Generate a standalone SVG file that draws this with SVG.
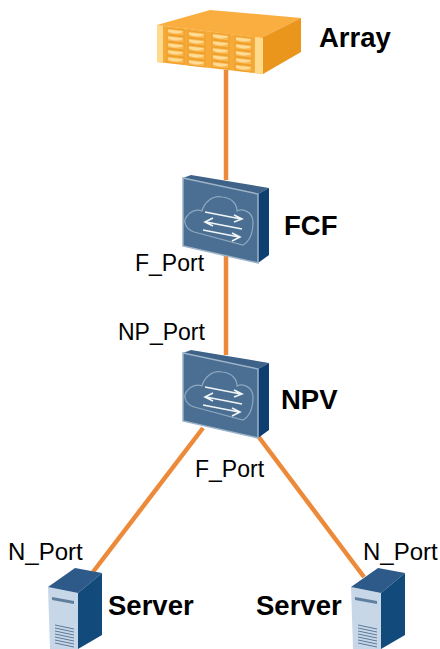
<svg xmlns="http://www.w3.org/2000/svg" width="440" height="649" viewBox="0 0 440 649">
<style>
.bold{font:bold 27.5px "Liberation Sans",Arial,sans-serif;fill:#000}
.port{font:23px "Liberation Sans",Arial,sans-serif;fill:#000}
.nport{font:24px "Liberation Sans",Arial,sans-serif;fill:#000}
.link{stroke:#ed8a3a;stroke-width:4.5;fill:none}
.swTop{fill:#3f6388}.swSide{fill:#0f3f70}.swFront{fill:#4a6f92;stroke:#9db3c8;stroke-width:1.5}
.sym{fill:none;stroke:#8ea8c0;stroke-width:1.2}
.arr{fill:none;stroke:#f1f5f8;stroke-width:1.6}
.srvTop{fill:#2d5a88}.srvSide{fill:#134a7c}.srvFront{fill:#c8d7e8}
.vent{stroke:#5b7a99;stroke-width:1}
.bayBg{fill:#fbb64e;stroke:#e8981f;stroke-width:.7}
.bayFg{fill:#ffdc96}
</style>
<defs>
<g id="switch">
<path class="swTop" d="M183 178L191 175L269 188L258 194Z"/>
<path class="swSide" d="M258 194L269 188V255L258 263Z"/>
<path class="swFront" d="M183 178L258 194V263L183 246Z"/>
<path class="sym" d="M198 233C186 231 182 222 187 216C190 211 197 209 202 211C204 203 212 195 222 197C232 198 237 204 237 211C243 208 253 212 253 222C253 232 250 241 243 245Z"/>
<path class="arr" d="M205 212L241 219M234 215L242 219L234 222M242 229L206 222M213 218L205 222L213 226M203 230L239 237M232 233L240 237L232 241"/>
</g>
<g id="server">
<path class="srvFront" d="M0 14L30 20V76H2Z"/>
<path class="srvTop" d="M0 14L27 -5L54 0L30 20Z"/>
<path class="srvSide" d="M30 20L54 0V62L30 76Z"/>
<path d="M4 24L26 28V31L4 27Z" fill="#5f7f9f"/>
<path class="vent" d="M7 52L26 56M7 55L26 59M7 58L26 62M7 61L26 65M7 64L26 68M7 67L26 71M7 70L26 74"/>
</g>
<g id="bay">
<path class="bayBg" d="M0 0L17 2V8L0 6Z"/>
<path class="bayFg" d="M1 1.5L16 3.3C15 6.5 5 6 1 3.5Z"/>
</g>
<g id="bayCol">
<use href="#bay"/>
<use href="#bay" y="7"/>
<use href="#bay" y="14"/>
<use href="#bay" y="21"/>
<use href="#bay" y="28"/>
</g>
</defs>
<g id="connectors">
<path class="link" d="M226 70V180"/>
<path class="link" d="M226 255V355"/>
<path class="link" d="M203 428L93 572"/>
<path class="link" d="M258 436L364 577"/>
</g>
<g id="array">
<path d="M157 25L210 10L301 18L261 38Z" fill="#fbae40"/>
<path d="M261 38L301 18V52L263 74Z" fill="#ea951c"/>
<path d="M157 25L263 38V74L157 62Z" fill="#f6aa3a"/>
<path d="M157 25L163 26V63L157 62Z M255 37L263 38V74L255 73Z" fill="#ffd98c"/>
<use href="#bayCol" x="167" y="28"/>
<use href="#bayCol" x="188" y="31"/>
<use href="#bayCol" x="212" y="33"/>
<use href="#bayCol" x="235" y="36"/>
<text class="bold" x="319" y="47">Array</text>
</g>
<g id="fcf">
<use href="#switch"/>
<text class="bold" x="284" y="235">FCF</text>
<text class="port" x="135" y="271">F_Port</text>
</g>
<g id="npv">
<use href="#switch" y="175"/>
<text class="bold" x="281" y="409">NPV</text>
<text class="port" x="118" y="340">NP_Port</text>
<text class="port" x="195" y="477">F_Port</text>
</g>
<g id="server-left">
<use href="#server" x="48" y="573"/>
<text class="bold" x="108" y="615">Server</text>
<text class="nport" x="8" y="560">N_Port</text>
</g>
<g id="server-right">
<use href="#server" x="351" y="573"/>
<text class="bold" x="256" y="615">Server</text>
<text class="nport" x="363" y="560">N_Port</text>
</g>
</svg>
